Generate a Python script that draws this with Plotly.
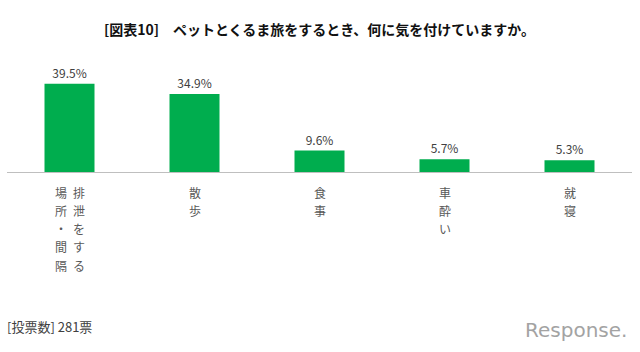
import plotly.graph_objects as go

# ---- data ----
categories = ["排泄をする場所・間隔", "散歩", "食事", "車酔い", "就寝"]
# vertical label columns (read right-to-left, as in the original)
label_columns = [["排泄をする", "場所・間隔"], ["散歩"], ["食事"], ["車酔い"], ["就寝"]]
values = [39.5, 34.9, 9.6, 5.7, 5.3]
title_text = "[図表10]　ペットとくるま旅をするとき、何に気を付けていますか。"
footer_text = "[投票数] 281票"
logo_text = "Response."

GREEN = "#00ad4e"
JP = "Noto Sans CJK JP"

TOP, BOTTOM = 62, 180
fig = go.Figure()
fig.add_trace(go.Bar(
    x=categories, y=values,
    marker=dict(color=GREEN, line=dict(width=0)),
    text=[f"{v:.1f}%" for v in values],
    textposition="outside",
    textfont=dict(family=JP, size=12, color="#404040"),
    cliponaxis=False,
    hoverinfo="skip",
))

ph = 352 - TOP - BOTTOM
base = 352 - BOTTOM

annotations = []
# vertical category labels, one char per annotation
col_gap = 18
row_gap = 18.3
for cat, cols in zip(categories, label_columns):
    n = len(cols)
    for ci, col in enumerate(cols):
        # rightmost column first
        offset = ((n - 1) / 2 - ci) * col_gap
        for ri, ch in enumerate(col):
            annotations.append(dict(
                x=cat, xref="x", y=0, yref="paper",
                text=ch, showarrow=False,
                xanchor="center", yanchor="middle",
                xshift=offset, yshift=-(192 - base) - ri * row_gap,
                font=dict(family=JP, size=12, color="#595959"),
            ))

annotations.append(dict(
    x=(5 - 7) / 625, xref="paper", y=-(326 - base) / ph, yref="paper",
    text=footer_text, showarrow=False, xanchor="left", yanchor="middle",
    font=dict(family=JP, size=13, color="#404040"),
))
annotations.append(dict(
    x=(629 - 7) / 625, xref="paper", y=-(330 - base) / ph, yref="paper",
    text=logo_text, showarrow=False, xanchor="right", yanchor="middle",
    font=dict(family="DejaVu Sans", size=20, color="#a3a3a3"),
))

fig.update_layout(
    width=640, height=352,
    margin=dict(l=7, r=8, t=TOP, b=BOTTOM),
    paper_bgcolor="white", plot_bgcolor="white",
    bargap=0.6,
    showlegend=False,
    title=dict(
        text=title_text, x=0.5, xref="paper", xanchor="center",
        y=1 - 30 / 352, yref="container", yanchor="middle",
        font=dict(family=JP, size=14, color="#111111", weight="bold"),
    ),
    xaxis=dict(
        showticklabels=False, ticks="", showgrid=False, zeroline=False,
        showline=True, linecolor="#bfbfbf", linewidth=1, fixedrange=True,
    ),
    yaxis=dict(
        range=[0, 49.2], visible=False, showgrid=False, zeroline=False, fixedrange=True,
    ),
    annotations=annotations,
)

fig.write_html("out.html")
